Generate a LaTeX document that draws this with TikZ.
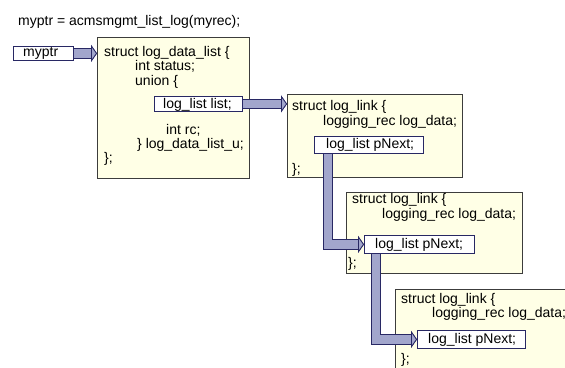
\documentclass[tikz,border=0pt]{standalone}
\usepackage{fontspec}
\setmainfont{Liberation Sans}
\usetikzlibrary{arrows.meta,calc}
\definecolor{boxfill}{RGB}{255,255,230}
\definecolor{boxline}{RGB}{60,60,60}
\definecolor{afill}{RGB}{162,166,204}
\definecolor{aline}{RGB}{40,40,100}
\begin{document}
\begin{tikzpicture}[x=1pt,y=-1pt,
  txt/.style={anchor=base west,inner sep=0pt,font=\fontsize{14}{16}\selectfont},
  struct/.style={draw=boxline,fill=boxfill,line width=0.8pt,anchor=north west,inner sep=0pt},
  ptrbox/.style={draw=aline,fill=white,line width=0.8pt,anchor=north west,inner sep=0pt},
  fat/.style={draw=aline,line width=10.5pt,line join=miter,
     -{Triangle[width=17pt,length=6pt,line width=0.8pt,fill=afill,color=aline]},
     postaction={draw=afill,line width=8.5pt}}]
\useasboundingbox (0,0) rectangle (565,367);
\clip (0,0) rectangle (565,367);

% title
\node[txt] (title) at (18,25) {myptr = acmsmgmt\_list\_log(myrec);};

% myptr
\node[ptrbox,minimum width=60pt,minimum height=14pt] (myptr) at (13,46) {};
\node[txt] (myptrt) at (23,56) {myptr};

% box 1
\node[struct,minimum width=152pt,minimum height=141pt] (b1) at (97,37) {};
\node[txt] (b1a) at (104,56) {struct log\_data\_list \{};
\node[txt] (b1b) at (135,70) {int status;};
\node[txt] (b1c) at (135,85) {union \{};
\node[ptrbox,minimum width=88pt,minimum height=15pt] (list) at (154,96) {};
\node[txt] (listt) at (163,108) {log\_list list;};
\node[txt] (b1d) at (166,134) {int rc;};
\node[txt] (b1e) at (137,148) {\} log\_data\_list\_u;};
\node[txt] (b1f) at (104,162) {\};};

% box 2
\node[struct,minimum width=175pt,minimum height=83pt] (b2) at (287,94) {};
\node[txt] (b2a) at (292,110) {struct log\_link \{};
\node[txt] (b2b) at (323,125) {logging\_rec log\_data;};
\node[ptrbox,minimum width=109pt,minimum height=17pt] (pn2) at (314,136) {};
\node[txt] (pn2t) at (326,148) {log\_list pNext;};
\node[txt] (b2c) at (292,173) {\};};

% box 3
\node[struct,minimum width=176pt,minimum height=81pt] (b3) at (346,192) {};
\node[txt] (b3a) at (352,203) {struct log\_link \{};
\node[txt] (b3b) at (382,218) {logging\_rec log\_data;};
\node[ptrbox,minimum width=110pt,minimum height=18pt] (pn3) at (364,235) {};
\node[txt] (pn3t) at (375,248) {log\_list pNext;};
\node[txt] (b3c) at (348,267) {\};};

% box 4
\node[struct,minimum width=200pt,minimum height=100pt] (b4) at (395,289) {};
\node[txt] (b4a) at (401,303) {struct log\_link \{};
\node[txt] (b4b) at (432,317) {logging\_rec log\_data;};
\node[ptrbox,minimum width=108pt,minimum height=18pt] (pn4) at (417,330) {};
\node[txt] (pn4t) at (428,343) {log\_list pNext;};
\node[txt] (b4c) at (401,363) {\};};

% connectors
\draw[fat] (myptr.east) -- (myptr.east -| b1.west);
\draw[fat] (list.east) -- (list.east -| b2.west);
\draw[fat] ($(pn2.south west)+(14,0)$) |- (pn3.west);
\draw[fat] ($(pn3.south west)+(12,0)$) |- (pn4.west);
\end{tikzpicture}
\end{document}
